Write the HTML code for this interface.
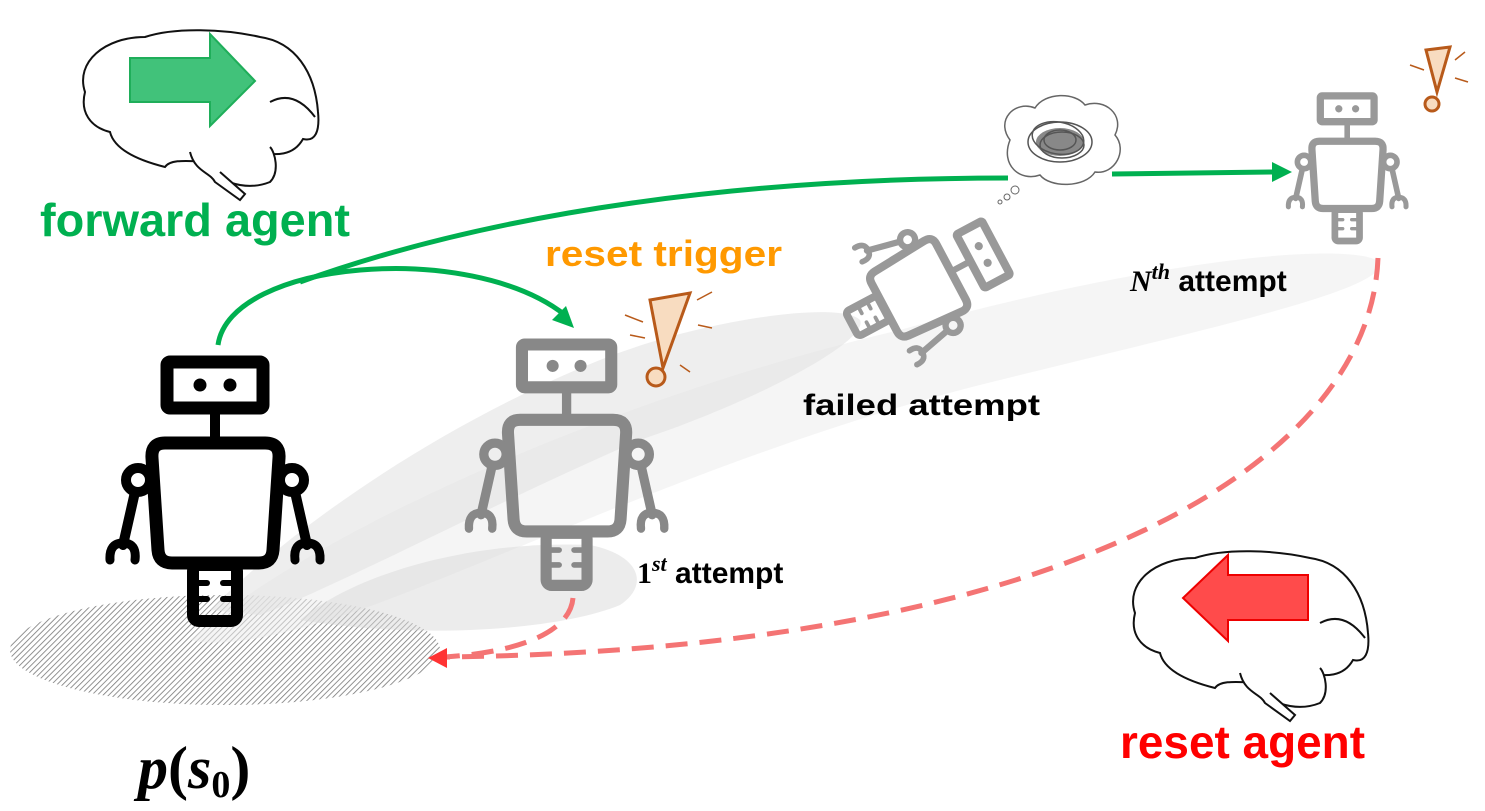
<!DOCTYPE html>
<html><head><meta charset="utf-8"><style>
html,body{margin:0;padding:0;background:#fff;}
svg{display:block;}
text{font-family:"Liberation Sans",sans-serif;font-weight:bold;}
</style></head><body>
<svg width="1485" height="811" viewBox="0 0 1485 811" xmlns="http://www.w3.org/2000/svg">
<defs>
<pattern id="hatch" width="4" height="4" patternUnits="userSpaceOnUse" patternTransform="rotate(45)">
<rect width="4" height="4" fill="#fff"/><line x1="0" y1="0" x2="0" y2="4" stroke="#777" stroke-width="1.6"/></pattern>
<g id="robot" fill="none" stroke-linejoin="round" stroke-linecap="round">
<rect x="72" y="7" width="96" height="46" rx="3" stroke-width="13"/>
<circle cx="105" cy="30" r="5" stroke-width="3" fill="currentColor"/>
<circle cx="135" cy="30" r="5" stroke-width="3" fill="currentColor"/>
<line x1="120" y1="53" x2="120" y2="82" stroke-width="10"/>
<path d="M70,88 L170,88 Q185,88 184,103 L178,195 Q177,208 164,208 L77,208 Q64,208 63,195 L57,103 Q56,88 70,88 Z" stroke-width="13"/>
<circle cx="43" cy="125" r="12" stroke-width="10"/>
<circle cx="197" cy="125" r="12" stroke-width="10"/>
<path d="M40,137 L28,190" stroke-width="10"/>
<path d="M200,137 L212,190" stroke-width="10"/>
<path d="M15,205 Q14,188 28,188 Q42,188 40,205" stroke-width="9"/>
<path d="M200,205 Q198,188 212,188 Q226,188 225,205" stroke-width="9"/>
<rect x="98" y="210" width="44" height="56" rx="6" stroke-width="12"/>
<line x1="104" y1="228" x2="112" y2="228" stroke-width="6"/><line x1="128" y1="228" x2="136" y2="228" stroke-width="6"/>
<line x1="104" y1="244" x2="112" y2="244" stroke-width="6"/><line x1="128" y1="244" x2="136" y2="244" stroke-width="6"/>
</g>
<g id="brain" fill="#fff" stroke="#111" stroke-width="2">
<path d="M10,60 C0,30 30,5 70,5 C100,-5 150,-3 185,5 C220,10 240,40 243,80 C245,100 240,110 228,107 C215,130 190,120 170,120 C150,140 100,120 90,135 C70,130 40,120 35,100 C15,95 5,80 10,60 Z"/>
<path d="M120,125 C140,150 170,160 195,150 C205,140 200,120 195,115" />
<path d="M115,120 C120,140 135,140 140,150 L165,168 L170,162 L145,140"/>
<path d="M195,70 C210,62 225,65 240,85" fill="none"/>
</g>
</defs>

<ellipse cx="225" cy="650" rx="215" ry="55" fill="url(#hatch)"/>
<path d="M190,640 C300,540 600,400 900,330 C1150,260 1350,240 1380,262 C1390,290 1200,330 1000,380 C750,440 500,560 360,610 C300,630 230,650 190,640 Z" fill="#ececec" opacity="0.55"/>
<path d="M210,610 C300,520 450,420 600,360 C700,320 840,300 860,320 C870,340 760,400 640,440 C500,500 330,590 260,615 Z" fill="#e2e2e2" opacity="0.6"/>
<path d="M300,620 C360,570 480,540 590,545 C640,555 650,585 620,605 C560,630 420,640 300,620 Z" fill="#dadada" opacity="0.5"/>

<g transform="translate(75,32)"><use href="#brain"/></g>
<polygon points="130,58 210,58 210,34 255,81 210,126 210,102 130,102" fill="#41c27a" stroke="#1fae5a" stroke-width="2"/>
<g transform="translate(1125,553)"><use href="#brain"/></g>
<polygon points="1308,575 1228,575 1228,555 1183,598 1228,641 1228,620 1308,620" fill="#ff4b4b" stroke="#e00" stroke-width="2"/>

<g transform="translate(95,355)" color="#000" stroke="#000"><use href="#robot"/></g>
<g transform="translate(455,338) scale(0.93)" color="#888" stroke="#888"><use href="#robot"/></g>
<g transform="translate(1280,92) scale(0.56)" color="#999" stroke="#999"><use href="#robot"/></g>
<g transform="translate(922,287) rotate(62) scale(0.63) translate(-120,-140)" color="#999" stroke="#999"><use href="#robot"/></g>

<g stroke="#b85a1a" stroke-width="3" fill="#f8dcc0">
<path d="M650,300 L690,293 L663,368 Z"/><circle cx="656" cy="377" r="9"/>
<path d="M1426,50 L1450,47 L1437,92 Z"/><circle cx="1432" cy="104" r="7"/>
</g>
<g stroke="#b85a1a" stroke-width="1.5">
<line x1="625" y1="315" x2="643" y2="322"/><line x1="630" y1="335" x2="645" y2="338"/><line x1="697" y1="300" x2="712" y2="292"/><line x1="698" y1="325" x2="712" y2="328"/><line x1="680" y1="365" x2="690" y2="372"/>
<line x1="1410" y1="65" x2="1424" y2="70"/><line x1="1455" y1="60" x2="1465" y2="52"/><line x1="1455" y1="78" x2="1468" y2="82"/>
</g>

<path d="M1010,140 C995,120 1015,100 1035,108 C1045,92 1075,92 1085,105 C1105,98 1125,115 1115,135 C1128,150 1115,175 1095,172 C1085,188 1050,188 1040,175 C1020,182 1000,165 1010,140 Z" fill="#fff" stroke="#666" stroke-width="1.5"/>
<g fill="none" stroke="#555" stroke-width="1.5">
<ellipse cx="1060" cy="142" rx="32" ry="20"/><ellipse cx="1058" cy="138" rx="26" ry="16" transform="rotate(10 1058 138)"/>
<ellipse cx="1062" cy="145" rx="22" ry="13"/><ellipse cx="1060" cy="140" rx="16" ry="10"/>
</g>
<ellipse cx="1060" cy="142" rx="24" ry="14" fill="#555" opacity="0.7"/>
<circle cx="1015" cy="190" r="4" fill="#fff" stroke="#666"/><circle cx="1007" cy="197" r="3" fill="#fff" stroke="#666"/><circle cx="1000" cy="202" r="2" fill="#fff" stroke="#666"/>

<g fill="none" stroke="#00b050" stroke-width="5">
<path d="M218,345 C230,260 470,240 565,315"/>
<path d="M300,282 C500,210 750,178 1008,178"/>
<path d="M1112,174 L1275,172"/>
</g>
<polygon points="1292,172 1272,162 1272,182" fill="#00b050"/>
<polygon points="574,328 552,320 566,306" fill="#00b050"/>

<g fill="none" stroke="#f47474" stroke-width="5" stroke-dasharray="22,12">
<path d="M1378,258 C1370,470 1050,650 445,657"/>
<path d="M573,598 C570,632 520,652 445,657"/>
</g>
<polygon points="428,658 447,648 447,668" fill="#f33"/>

<text x="40" y="236" font-size="46" fill="#00b050" textLength="310" lengthAdjust="spacingAndGlyphs">forward agent</text>
<text x="545" y="266" font-size="36" fill="#ff9900" textLength="237" lengthAdjust="spacingAndGlyphs">reset trigger</text>
<text x="803" y="415" font-size="30" fill="#000" textLength="237" lengthAdjust="spacingAndGlyphs">failed attempt</text>
<text x="1130" y="291" font-size="30" fill="#000"><tspan font-family="Liberation Serif" font-style="italic">N</tspan><tspan font-family="Liberation Serif" font-style="italic" font-size="22" dy="-12">th</tspan><tspan dy="12"> attempt</tspan></text>
<text x="637" y="583" font-size="30" fill="#000"><tspan font-family="Liberation Serif">1</tspan><tspan font-family="Liberation Serif" font-style="italic" font-size="22" dy="-12">st</tspan><tspan dy="12"> attempt</tspan></text>
<text x="1120" y="758" font-size="46" fill="#f00" textLength="245" lengthAdjust="spacingAndGlyphs">reset agent</text>
<text x="138" y="788" font-size="60" fill="#000" style="font-family:'Liberation Serif',serif"><tspan font-style="italic">p</tspan>(<tspan font-style="italic">s</tspan><tspan font-size="38" dy="9">0</tspan><tspan dy="-9">)</tspan></text>
</svg>
</body></html>
